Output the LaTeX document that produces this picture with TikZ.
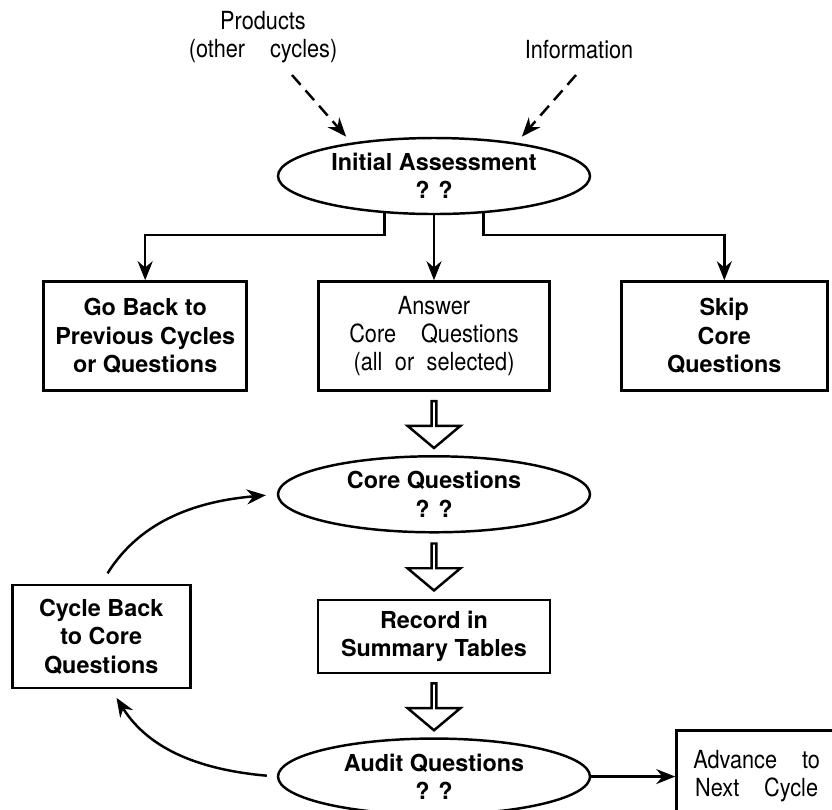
\documentclass[tikz,border=0pt]{standalone}
\usepackage{fontspec}
\setmainfont{TeX Gyre Heros}
\newfontfamily\narrowfont[FakeStretch=0.87]{TeX Gyre Heros}
\usepackage{tikz}
\usetikzlibrary{positioning, calc, arrows.meta, shapes.geometric, shapes.arrows}

\begin{document}
\begin{tikzpicture}[
    decision/.style={ellipse, draw, line width=1.4pt, inner sep=0pt, minimum width=6.24cm, minimum height=1.52cm, align=center, font=\fontsize{13.3}{16.2}\selectfont\bfseries},
    step_box/.style={rectangle, draw, line width=1.6pt, inner sep=2pt, align=center, font=\fontsize{13.3}{16.2}\selectfont\bfseries},
    thin_text/.style={align=center, font=\narrowfont\fontsize{14.2}{15.9}\selectfont},
    arrow_pointer/.style={-{Stealth[length=0.38cm, width=0.3cm]}, line width=1.4pt},
    dash_pointer/.style={arrow_pointer, dash pattern=on 0.26cm off 0.15cm},
    block_arrow/.style={single arrow, draw, line width=1.4pt, shape border rotate=270, minimum height=0.94cm, minimum width=1.06cm, single arrow head extend=0.26cm, single arrow tip angle=100, inner sep=0pt}]

    \useasboundingbox (0,0) rectangle (16.64,-16.18);
    \clip (0,0) rectangle (16.64,-16.18);

    % Inputs
    \node[thin_text] (products) at (5.26,-0.74) {Products\\(other\quad cycles)};
    \node[thin_text] (information) at (11.58,-1.0) {Information};
    \node[decision] (init) at (8.68,-3.52) {Initial Assessment\\? ?};
    \coordinate (products_tail) at (5.84,-1.5);
    \coordinate (information_tail) at (11.52,-1.5);
    \draw[dash_pointer, shorten >=0.16cm] (products_tail) -- (init.158);
    \draw[dash_pointer, shorten >=0.16cm] (information_tail) -- (init.22);

    % Choices
    \node[step_box, thin_text, minimum width=4.62cm, minimum height=2.18cm, below=1.3cm of init] (answer) {Answer\\Core\quad Questions\\(all\enspace or\enspace selected)};
    \node[step_box, minimum width=4.06cm, minimum height=2.18cm, left=1.38cm of answer] (goback) {Go Back to\\Previous Cycles\\or Questions};
    \node[step_box, minimum width=4.12cm, minimum height=2.18cm, right=1.38cm of answer] (skip) {Skip\\Core\\Questions};

    \coordinate (bar) at (0,-4.7);
    \draw[arrow_pointer] (init.217) -- (init.217 |- bar) -| (goback.north);
    \draw[arrow_pointer] (init.south) -- (answer.north);
    \draw[arrow_pointer] (init.323) -- (init.323 |- bar) -| (skip.north);

    % Core loop
    \node[decision, below=1.26cm of answer] (core) {Core Questions\\? ?};
    \node[step_box, minimum width=4.64cm, minimum height=1.46cm, below=1.3cm of core] (record) {Record in\\Summary Tables};
    \node[decision, below=1.26cm of record] (audit) {Audit Questions\\? ?};
    \node[block_arrow] (block0) at ($(answer.south)!0.5!(core.north)$) {};
    \node[block_arrow] (block1) at ($(core.south)!0.5!(record.north)$) {};
    \node[block_arrow] (block2) at ($(record.south)!0.5!(audit.north)$) {};

    \node[step_box, minimum width=3.56cm, minimum height=2.06cm, left=2.5cm of record] (cycle) {Cycle Back\\to Core\\Questions};
    \node[step_box, thin_text, minimum width=3.2cm, minimum height=1.84cm, right=1.68cm of audit] (advance) {Advance\quad to\\Next\quad Cycle};

    % Loop back and advance
    \draw[arrow_pointer, shorten <=0.24cm, shorten >=0.22cm] (cycle.north) to[out=58, in=185] (core.west);
    \draw[arrow_pointer, shorten <=0.2cm, shorten >=0.2cm] (audit.west) to[out=175, in=-58] ([xshift=0.2cm]cycle.south);
    \draw[arrow_pointer] (audit.east) -- (advance.west);
\end{tikzpicture}
\end{document}
